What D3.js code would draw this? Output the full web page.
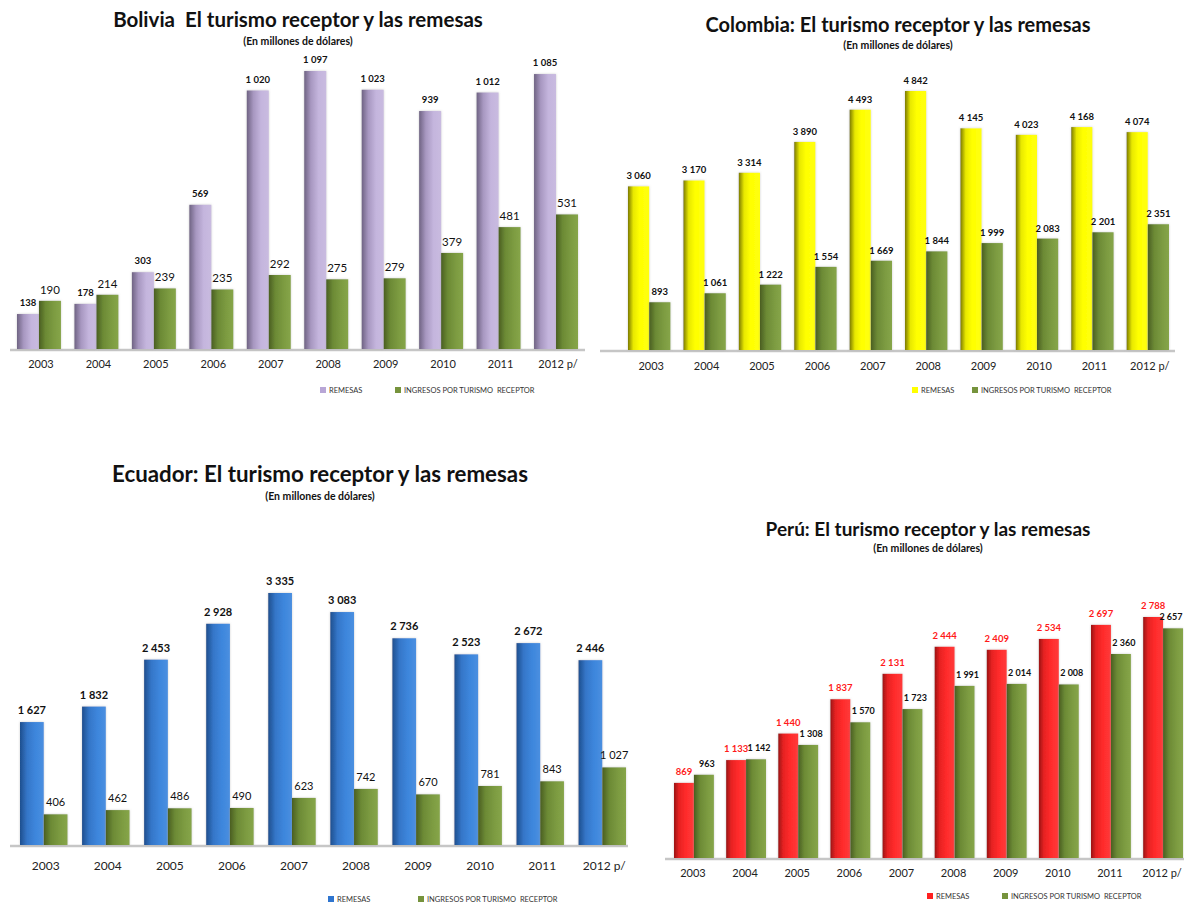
<!DOCTYPE html>
<html>
<head>
<meta charset="utf-8">
<script src="https://cdn.jsdelivr.net/npm/d3@7"></script>
<style>
  body { margin: 0; background: #fff; }
  svg text { font-family: Lato, "Open Sans", sans-serif; white-space: pre; }
</style>
</head>
<body>
<div id="chart"></div>
<script>
// data
var years = ["2003", "2004", "2005", "2006", "2007", "2008", "2009", "2010", "2011", "2012 p/"];
var seriesNames = ["REMESAS", "INGRESOS POR TURISMO  RECEPTOR"];

var boliviaRemesas = [138, 178, 303, 569, 1020, 1097, 1023, 939, 1012, 1085];
var boliviaTurismo = [190, 214, 239, 235, 292, 275, 279, 379, 481, 531];

var colombiaRemesas = [3060, 3170, 3314, 3890, 4493, 4842, 4145, 4023, 4168, 4074];
var colombiaTurismo = [893, 1061, 1222, 1554, 1669, 1844, 1999, 2083, 2201, 2351];

var ecuadorRemesas = [1627, 1832, 2453, 2928, 3335, 3083, 2736, 2523, 2672, 2446];
var ecuadorTurismo = [406, 462, 486, 490, 623, 742, 670, 781, 843, 1027];

var peruRemesas = [869, 1133, 1440, 1837, 2131, 2444, 2409, 2534, 2697, 2788];
var peruTurismo = [963, 1142, 1308, 1570, 1723, 1991, 2014, 2008, 2360, 2657];

var svgWidth = 1184;
var svgHeight = 907;

var svg = d3.select("#chart")
  .append("svg")
  .attr("width", svgWidth)
  .attr("height", svgHeight);

var defs = svg.append("defs");

// cylinder-ish shading for the bars
function addGradient(id, stops) {
  var g = defs.append("linearGradient")
    .attr("id", id)
    .attr("x1", "0%").attr("x2", "100%")
    .attr("y1", "0%").attr("y2", "0%");
  stops.forEach(function(s) {
    g.append("stop").attr("offset", s[0]).attr("stop-color", s[1]);
  });
}
addGradient("gLav", [["0%", "#6f6383"], ["30%", "#a797c0"], ["65%", "#c4b5dd"], ["100%", "#c9bbe0"]]);
addGradient("gYel", [["0%", "#7c7a00"], ["25%", "#e8e800"], ["55%", "#ffff00"], ["100%", "#ffff10"]]);
addGradient("gBlu", [["0%", "#1e4f8e"], ["30%", "#3576c8"], ["65%", "#3d86dc"], ["100%", "#4a8fe0"]]);
addGradient("gRed", [["0%", "#9a1414"], ["25%", "#e62222"], ["60%", "#ff2b2b"], ["100%", "#ff3a3a"]]);
addGradient("gGrn", [["0%", "#4a5e22"], ["30%", "#6c8a35"], ["70%", "#7d9c42"], ["100%", "#86a548"]]);

var blur = defs.append("filter").attr("id", "soft")
  .attr("x", "-20%").attr("y", "-5%").attr("width", "140%").attr("height", "110%");
blur.append("feDropShadow").attr("dx", 0).attr("dy", 0).attr("stdDeviation", 1)
  .attr("flood-color", "#999").attr("flood-opacity", 0.5);

var fmt = d3.formatLocale({ decimal: ",", thousands: " ", grouping: [3], currency: ["", ""] }).format(",d");

var panels = [
  {
    title: "Bolivia  El turismo receptor y las remesas", titleX: 298, titleY: 27, titleSize: 20.5,
    subY: 45, remesas: boliviaRemesas, turismo: boliviaTurismo,
    fill: "url(#gLav)", legendFill: "#b8a6d6",
    xRange: [17, 578], axisX: [10, 585], base: 349, top: 71, tickY: 369, tickSize: 11, tickDx: 2,
    remLabel: { size: 9.5, weight: "bold", color: "#111", dx: 0, gap: 8 },
    turLabel: { size: 11.5, weight: "normal", color: "#111", dx: 0, gap: 7 },
    legendY: 393, legendX: [320, 395]
  },
  {
    title: "Colombia: El turismo receptor y las remesas", titleX: 898, titleY: 32, titleSize: 20,
    subY: 49, remesas: colombiaRemesas, turismo: colombiaTurismo,
    fill: "url(#gYel)", legendFill: "#ffff00",
    xRange: [628, 1169], axisX: [600, 1175], base: 350, top: 91, tickY: 371, tickSize: 11, tickDx: 2,
    remLabel: { size: 9.5, weight: "bold", color: "#111", dx: 0, gap: 7 },
    turLabel: { size: 9.5, weight: "bold", color: "#111", dx: 0, gap: 7 },
    legendY: 393, legendX: [912, 972]
  },
  {
    title: "Ecuador: El turismo receptor y las remesas", titleX: 320, titleY: 482, titleSize: 22.3,
    subY: 500, remesas: ecuadorRemesas, turismo: ecuadorTurismo,
    fill: "url(#gBlu)", legendFill: "#2f75cf",
    xRange: [20, 626], axisX: [10, 628], base: 845, top: 593, tickY: 870, tickSize: 12, tickDx: 2,
    remLabel: { size: 11, weight: "bold", color: "#111", dx: 0, gap: 8 },
    turLabel: { size: 11, weight: "normal", color: "#111", dx: 0, gap: 8 },
    legendY: 902, legendX: [328, 418]
  },
  {
    title: "Perú: El turismo receptor y las remesas", titleX: 928, titleY: 536, titleSize: 19,
    subY: 552, remesas: peruRemesas, turismo: peruTurismo,
    fill: "url(#gRed)", legendFill: "#ff2020",
    xRange: [674, 1183], axisX: [665, 1184], base: 858, top: 617, tickY: 878, tickSize: 11, tickDx: -1,
    remLabel: { size: 9.5, weight: "bold", color: "#ff1a1a", dx: 0, gap: 8 },
    turLabel: { size: 9, weight: "bold", color: "#111", dx: 3, gap: 8 },
    legendY: 899, legendX: [927, 1002]
  }
];

function drawPanel(p) {
  var g = svg.append("g");

  var rows = years.map(function(y, i) {
    return { year: y, remesas: p.remesas[i], turismo: p.turismo[i] };
  });

  var x0 = d3.scaleBand()
    .domain(years)
    .range(p.xRange)
    .paddingInner(0.235);

  var x1 = d3.scaleBand()
    .domain(["remesas", "turismo"])
    .range([0, x0.bandwidth()]);

  var maxVal = d3.max(rows, function(d) { return Math.max(d.remesas, d.turismo); });
  var y = d3.scaleLinear()
    .domain([0, maxVal])
    .range([p.base, p.top]);

  // titles
  g.append("text")
    .attr("x", p.titleX).attr("y", p.titleY)
    .attr("text-anchor", "middle")
    .attr("font-size", p.titleSize).attr("font-weight", "bold")
    .attr("fill", "#111")
    .text(p.title);
  g.append("text")
    .attr("x", p.titleX).attr("y", p.subY)
    .attr("text-anchor", "middle")
    .attr("font-size", 10.5).attr("font-weight", "bold")
    .attr("fill", "#111")
    .text("(En millones de dólares)");

  // baseline
  g.append("line")
    .attr("x1", p.axisX[0]).attr("x2", p.axisX[1])
    .attr("y1", p.base + 1).attr("y2", p.base + 1)
    .attr("stroke", "#c6c6c6").attr("stroke-width", 2.5);

  var groups = g.selectAll(".yr")
    .data(rows)
    .enter()
    .append("g")
    .attr("transform", function(d) { return "translate(" + x0(d.year) + ",0)"; });

  groups.append("rect")
    .attr("x", x1("remesas"))
    .attr("y", function(d) { return y(d.remesas); })
    .attr("width", x1.bandwidth())
    .attr("height", function(d) { return y(0) - y(d.remesas); })
    .attr("fill", p.fill)
    .attr("filter", "url(#soft)");

  groups.append("rect")
    .attr("x", x1("turismo"))
    .attr("y", function(d) { return y(d.turismo); })
    .attr("width", x1.bandwidth())
    .attr("height", function(d) { return y(0) - y(d.turismo); })
    .attr("fill", "url(#gGrn)")
    .attr("filter", "url(#soft)");

  groups.append("text")
    .attr("x", x1("remesas") + x1.bandwidth() / 2 + p.remLabel.dx)
    .attr("y", function(d) { return y(d.remesas) - p.remLabel.gap; })
    .attr("text-anchor", "middle")
    .attr("font-size", p.remLabel.size)
    .attr("font-weight", p.remLabel.weight)
    .attr("fill", p.remLabel.color)
    .text(function(d) { return fmt(d.remesas); });

  // keep the right-most labels inside the page
  groups.append("text")
    .attr("x", function(d) {
      var cx = x1("turismo") + x1.bandwidth() / 2 + p.turLabel.dx;
      return Math.min(cx, svgWidth - 13 - x0(d.year));
    })
    .attr("y", function(d) { return y(d.turismo) - p.turLabel.gap; })
    .attr("text-anchor", "middle")
    .attr("font-size", p.turLabel.size)
    .attr("font-weight", p.turLabel.weight)
    .attr("fill", p.turLabel.color)
    .text(function(d) { return fmt(d.turismo); });

  // category labels
  var xAxis = g.append("g")
    .attr("transform", "translate(" + p.tickDx + "," + (p.tickY - 9) + ")")
    .call(d3.axisBottom(x0).tickSize(0).tickPadding(0));
  xAxis.select(".domain").remove();
  xAxis.selectAll("text")
    .attr("font-family", "Lato, 'Open Sans', sans-serif")
    .attr("font-size", p.tickSize)
    .attr("fill", "#222");

  // legend
  var legendFills = [p.legendFill, "#76933c"];
  seriesNames.forEach(function(name, i) {
    g.append("rect")
      .attr("x", p.legendX[i]).attr("y", p.legendY - 6)
      .attr("width", 6).attr("height", 6)
      .attr("fill", legendFills[i]);
    g.append("text")
      .attr("x", p.legendX[i] + 9).attr("y", p.legendY)
      .attr("font-size", 7.5)
      .attr("fill", "#333")
      .text(name);
  });
}

panels.forEach(drawPanel);
</script>
</body>
</html>
